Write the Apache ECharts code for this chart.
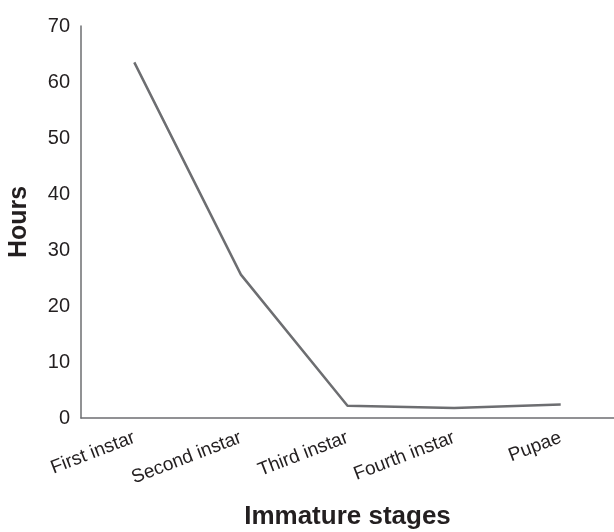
<!DOCTYPE html>
<html>
<head>
<meta charset="utf-8">
<script src="https://cdn.jsdelivr.net/npm/echarts@6/dist/echarts.min.js"></script>
<style>
html,body{margin:0;padding:0;background:#fff;}
#chart{width:614px;height:532px;}
</style>
</head>
<body>
<div id="chart"></div>
<script>
const categories = ['First instar', 'Second instar', 'Third instar', 'Fourth instar', 'Pupae'];
const hours = [63.5, 25.6, 2.2, 1.8, 2.4];
const yTicks = { min: 0, max: 70, interval: 10 };

const chart = echarts.init(document.getElementById('chart'));
const font = 'Liberation Sans, Arial, sans-serif';
chart.setOption({
  animation: false,
  grid: { left: 81, right: 0, top: 26, bottom: 114, containLabel: false, outerBoundsMode: 'none' },
  xAxis: {
    type: 'category',
    data: categories,
    boundaryGap: true,
    name: 'Immature stages',
    nameLocation: 'middle',
    nameGap: 86,
    nameTextStyle: { fontFamily: font, fontSize: 26, fontWeight: 'bold', color: '#231f20' },
    axisLine: { lineStyle: { color: '#6d6e71', width: 1.5 } },
    axisTick: { show: false },
    axisLabel: { rotate: 21, interval: 0, margin: 19, fontFamily: font, fontSize: 19, color: '#231f20' }
  },
  yAxis: {
    type: 'value',
    min: yTicks.min, max: yTicks.max, interval: yTicks.interval,
    name: 'Hours',
    nameLocation: 'middle',
    nameGap: 49,
    nameTextStyle: { fontFamily: font, fontSize: 25, fontWeight: 'bold', color: '#231f20' },
    axisLine: { show: true, lineStyle: { color: '#6d6e71', width: 1.5 } },
    axisTick: { show: false },
    splitLine: { show: false },
    axisLabel: { margin: 11, fontFamily: font, fontSize: 20, color: '#231f20' }
  },
  series: [{
    type: 'line',
    data: hours,
    symbol: 'none',
    lineStyle: { color: '#6d6e71', width: 2.5 }
  }]
});
</script>
</body>
</html>
